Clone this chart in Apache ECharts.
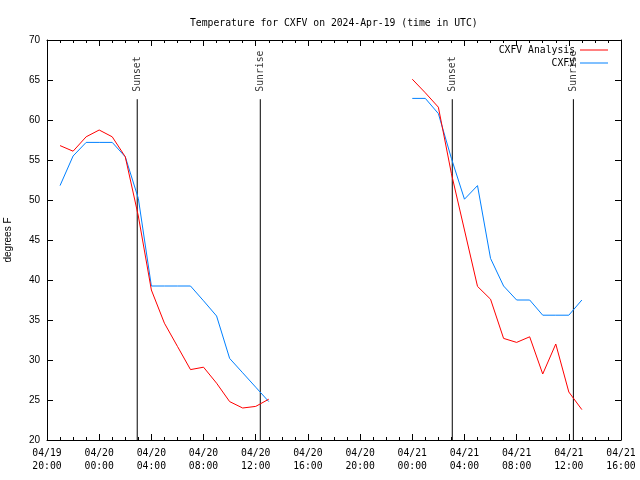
<!DOCTYPE html>
<html><head><meta charset="utf-8">
<script src="https://cdn.jsdelivr.net/npm/echarts@6/dist/echarts.min.js"></script>
<style>html,body{margin:0;padding:0;background:#fff}#c{width:640px;height:480px}</style>
</head><body><div id="c"></div>
<script>
// ---- data ----
const axisStart = '2024-04-19T20:00Z';
const axisEnd = '2024-04-21T16:00Z';
const seg1Times = ['2024-04-19T21:00Z','2024-04-19T22:00Z','2024-04-19T23:00Z','2024-04-20T00:00Z','2024-04-20T01:00Z','2024-04-20T02:00Z','2024-04-20T03:00Z','2024-04-20T04:00Z','2024-04-20T05:00Z','2024-04-20T06:00Z','2024-04-20T07:00Z','2024-04-20T08:00Z','2024-04-20T09:00Z','2024-04-20T10:00Z','2024-04-20T11:00Z','2024-04-20T12:00Z','2024-04-20T13:00Z'];
const seg2Times = ['2024-04-21T00:00Z','2024-04-21T01:00Z','2024-04-21T02:00Z','2024-04-21T03:00Z','2024-04-21T04:00Z','2024-04-21T05:00Z','2024-04-21T06:00Z','2024-04-21T07:00Z','2024-04-21T08:00Z','2024-04-21T09:00Z','2024-04-21T10:00Z','2024-04-21T11:00Z','2024-04-21T12:00Z','2024-04-21T13:00Z'];
const analysis1 = [56.8,56.1,57.9,58.75,57.9,55.4,48.0,38.75,34.6,31.7,28.8,29.1,27.1,24.8,24.0,24.2,25.1];
const observed1 = [51.8,55.5,57.2,57.2,57.2,55.4,50.2,39.25,39.25,39.25,39.25,37.4,35.5,30.2,28.4,26.6,24.8];
const analysis2 = [65.1,63.4,61.6,53.3,46.25,39.2,37.6,32.7,32.2,32.9,28.25,32.0,26.0,23.8];
const observed2 = [62.7,62.7,60.8,55.2,50.1,51.8,42.7,39.25,37.5,37.5,35.6,35.6,35.6,37.5];
const sunEvents = ['Sunset','Sunrise','Sunset','Sunrise'];
const sunTimes = ['2024-04-20T02:55Z','2024-04-20T12:21Z','2024-04-21T03:04Z','2024-04-21T12:21Z'];
const sunLineTop = 62.6;
const yMin = 20, yMax = 70, yStep = 5;
const xStepHours = 4;
const titleText = 'Temperature for CXFV on 2024-Apr-19 (time in UTC)';
const yName = 'degrees F';
const names = ['CXFV Analysis','CXFV'];

// ---- build ----
const base = Date.parse(axisStart);
const H = s => (Date.parse(s) - base) / 3600000;
const xMax = H(axisEnd);
function join(t1, v1, t2, v2){
  const out = t1.map((t,i)=>[H(t), v1[i]]);
  out.push([(H(t1[t1.length-1]) + H(t2[0]))/2, null]);
  t2.forEach((t,i)=>out.push([H(t), v2[i]]));
  return out;
}
const p2 = n => String(n).padStart(2,'0');
function fmt(v){
  const d = new Date(base + v*3600000);
  return p2(d.getUTCMonth()+1)+'/'+p2(d.getUTCDate())+'\n'+p2(d.getUTCHours())+':'+p2(d.getUTCMinutes());
}
const sunLineData = [];
sunTimes.forEach(t=>{ sunLineData.push([H(t), yMin]); sunLineData.push([H(t), sunLineTop]); sunLineData.push([H(t), null]); });
const sunLabelData = sunTimes.map((t,i)=>({value:[H(t), sunLineTop], name: sunEvents[i]}));

const mono = 'DejaVu Sans Mono';
const sans = 'Liberation Sans';
const axisCommon = {
  type:'value', min:0, max:xMax, interval:xStepHours,
  axisLine:{show:true, onZero:false, lineStyle:{color:'#000', width:1}},
  axisTick:{show:true, inside:true, length:6, lineStyle:{color:'#000'}},
  minorTick:{show:true, splitNumber:4, length:3, lineStyle:{color:'#000'}},
  splitLine:{show:false}, minorSplitLine:{show:false}
};
const yCommon = {
  type:'value', min:yMin, max:yMax, interval:yStep,
  axisLine:{show:true, onZero:false, lineStyle:{color:'#000', width:1}},
  axisTick:{show:true, inside:true, length:6, lineStyle:{color:'#000'}},
  splitLine:{show:false}
};
const chart = echarts.init(document.getElementById('c'), null, {renderer:'canvas'});
chart.setOption({
  animation:false,
  backgroundColor:'#fff',
  title:{text:titleText, left:185, top:13, textStyle:{fontFamily:mono, fontSize:9.75, fontWeight:'normal', color:'#000'}},
  legend:{data:names, orient:'vertical', right:32, top:44, padding:0, align:'right', icon:'rect', itemWidth:28, itemHeight:1, itemGap:1,
    textStyle:{fontFamily:mono, fontSize:9.75, color:'#000', lineHeight:12}},
  grid:{left:47, right:19, top:40, bottom:40, containLabel:false, outerBoundsMode:'none'},
  xAxis:[
    Object.assign({}, axisCommon, {position:'bottom', axisLabel:{formatter:fmt, fontFamily:mono, fontSize:9.75, color:'#000', lineHeight:13, margin:7}}),
    Object.assign({}, axisCommon, {position:'top', axisLabel:{show:false}})
  ],
  yAxis:[
    Object.assign({}, yCommon, {position:'left', name:yName, nameLocation:'middle', nameRotate:90, nameGap:34,
      nameTextStyle:{fontFamily:sans, fontSize:10, color:'#000'},
      axisLabel:{fontFamily:sans, fontSize:10, color:'#000', margin:7}}),
    Object.assign({}, yCommon, {position:'right', axisLabel:{show:false}})
  ],
  series:[
    {name:'sun', type:'line', data:sunLineData, symbol:'none', connectNulls:false,
      lineStyle:{color:'#000', width:1}, z:1},
    {name:'sunLabels', type:'scatter', data:sunLabelData, symbolSize:1, itemStyle:{color:'rgba(0,0,0,0)'},
      label:{show:true, formatter:p=>p.name, position:'top', rotate:90, align:'left', verticalAlign:'middle', distance:7,
        fontFamily:mono, fontSize:9.75, color:'#000'}},
    {name:names[0], type:'line', data:join(seg1Times, analysis1, seg2Times, analysis2), symbol:'none', connectNulls:false,
      color:'#ff0000', lineStyle:{color:'#ff0000', width:1}, z:3},
    {name:names[1], type:'line', data:join(seg1Times, observed1, seg2Times, observed2), symbol:'none', connectNulls:false,
      color:'#0080ff', lineStyle:{color:'#0080ff', width:1}, z:2}
  ]
});
</script></body></html>
